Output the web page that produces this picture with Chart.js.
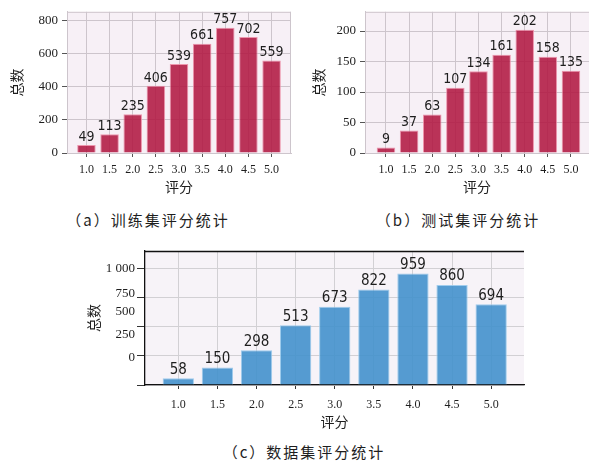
<!DOCTYPE html>
<html>
<head>
<meta charset="utf-8">
<script src="https://cdn.jsdelivr.net/npm/chart.js@4.4.0/dist/chart.umd.min.js"></script>
<style>
  body { margin: 0; background: #fff; width: 589px; height: 463px; position: relative; overflow: hidden; }
  canvas { position: absolute; }
  .cap { position: absolute; font-family: "Noto Sans CJK SC"; font-size: 15px; line-height: 20px;
         letter-spacing: 2px; color: #1e1e1e; white-space: nowrap; transform: translateX(-50%); }
</style>
</head>
<body>
<canvas id="chartA" width="300" height="200" style="left:0;top:0"></canvas>
<canvas id="chartB" width="289" height="200" style="left:300px;top:0"></canvas>
<canvas id="chartC" width="460" height="200" style="left:80px;top:240px"></canvas>
<div class="cap" id="capA" style="left:148px;top:210px"></div>
<div class="cap" id="capB" style="left:458px;top:210px"></div>
<div class="cap" id="capC" style="left:304px;top:442px"></div>
<script>
// data
const ratings = [1.0, 1.5, 2.0, 2.5, 3.0, 3.5, 4.0, 4.5, 5.0];
const trainCounts = [49, 113, 235, 406, 539, 661, 757, 702, 559];
const testCounts = [9, 37, 63, 107, 134, 161, 202, 158, 135];
const allCounts = [58, 150, 298, 513, 673, 822, 959, 860, 694];

const yTicksA = [0, 200, 400, 600, 800];
const yTicksB = [0, 50, 100, 150, 200];
const yTicksC = [0, 250, 500, 750, 1000];
// the (c) figure has its tick texts shifted off the grid lines
const cTickLabels = ['0', '250', '500', '750', '1 000'];
const cLabelAt = [232, 430, 628, 782, 1000];

const xTitle = '评分';
const yTitle = '总数';
const captions = ['（a）训练集评分统计', '（b）测试集评分统计', '（c）数据集评分统计'];

document.getElementById('capA').textContent = captions[0];
document.getElementById('capB').textContent = captions[1];
document.getElementById('capC').textContent = captions[2];

const serif = '"Liberation Serif", "DejaVu Serif", serif';
const cjk = '"Noto Sans CJK SC", sans-serif';
const narrow = '"Liberation Sans Narrow", "DejaVu Sans Condensed", "Liberation Sans", sans-serif';

// pink/lavender panel behind the bars, plus the top/right frame
const plotBg = {
  id: 'plotBg',
  beforeDraw(chart, args, opts) {
    const { ctx, chartArea: a } = chart;
    ctx.save();
    ctx.fillStyle = opts.color;
    ctx.fillRect(a.left, a.top, a.width, a.height);
    ctx.restore();
  },
  afterDatasetsDraw(chart, args, opts) {
    const { ctx, chartArea: a } = chart;
    ctx.save();
    ctx.strokeStyle = opts.frame;
    ctx.lineWidth = opts.frameWidth || 1;
    ctx.beginPath();
    ctx.moveTo(a.left, a.top + 0.5);
    ctx.lineTo(a.right, a.top + 0.5);
    if (opts.right) {
      ctx.moveTo(a.right - 0.5, a.top);
      ctx.lineTo(a.right - 0.5, a.bottom);
    }
    ctx.stroke();
    ctx.restore();
  }
};

// numbers on top of each bar
const valueLabels = {
  id: 'valueLabels',
  afterDatasetsDraw(chart, args, opts) {
    const { ctx } = chart;
    const meta = chart.getDatasetMeta(0);
    const ds = chart.data.datasets[0].data;
    ctx.save();
    ctx.font = opts.font;
    ctx.fillStyle = '#1e1e1e';
    ctx.textAlign = 'center';
    ctx.textBaseline = 'bottom';
    meta.data.forEach((bar, i) => {
      ctx.fillText(String(ds[i].y), bar.x, bar.y - 1);
    });
    ctx.restore();
  }
};

function makeChart(id, counts, c) {
  const scales = {
    x: {
      type: 'linear',
      min: c.xMin,
      max: c.xMax,
      offset: false,
      afterBuildTicks: s => { s.ticks = ratings.map(v => ({ value: v })); },
      afterFit: s => { s.height = c.xHeight; },
      grid: { color: c.grid, tickColor: c.tick, tickLength: 4, offset: false },
      border: { color: c.axis, width: c.axisWidth },
      ticks: {
        autoSkip: false, maxRotation: 0, padding: c.xTickPad, color: '#1e1e1e',
        font: { family: serif, size: 12 },
        callback: v => Number(v).toFixed(1)
      },
      title: {
        display: true, text: xTitle, color: '#1e1e1e',
        font: { family: cjk, size: 14 },
        padding: { top: 0, bottom: c.xTitlePad }
      }
    },
    y: {
      min: 0,
      max: c.yMax,
      weight: 0,
      afterBuildTicks: s => { s.ticks = c.yTicks.map(v => ({ value: v })); },
      afterFit: s => { s.width = c.yWidth; },
      grid: { color: c.grid, tickColor: c.tick, tickLength: c.yTickLen },
      border: { color: c.axis, width: c.axisWidth },
      ticks: {
        display: !c.splitLabels, padding: 4, color: '#1e1e1e',
        font: { family: serif, size: 13 }
      },
      title: {
        display: !c.splitLabels, text: yTitle, color: '#1e1e1e',
        font: { family: cjk, size: 14 },
        padding: { top: c.yTitlePad, bottom: 0 }
      }
    }
  };
  if (c.splitLabels) {
    scales.yLab = {
      position: 'left',
      weight: 1,
      min: 0,
      max: c.yMax,
      afterBuildTicks: s => { s.ticks = cLabelAt.map(v => ({ value: v })); },
      afterFit: s => { s.width = c.labWidth; },
      grid: { display: false, drawTicks: false },
      border: { display: false },
      ticks: {
        padding: 0, color: '#1e1e1e', autoSkip: false,
        font: { family: serif, size: 13 },
        callback: (v, i) => cTickLabels[i]
      },
      title: {
        display: true, text: yTitle, color: '#1e1e1e',
        font: { family: cjk, size: 14 },
        padding: { top: c.yTitlePad, bottom: 0 }
      }
    };
  }
  return new Chart(document.getElementById(id), {
    type: 'bar',
    data: {
      datasets: [{
        data: ratings.map((r, i) => ({ x: r, y: counts[i] })),
        backgroundColor: c.bar,
        borderColor: c.edge,
        borderWidth: 1,
        barPercentage: 0.8,
        categoryPercentage: 1
      }]
    },
    options: {
      responsive: false,
      animation: false,
      layout: { padding: c.pad },
      plugins: {
        legend: { display: false },
        tooltip: { enabled: false },
        plotBg: { color: c.bg, frame: c.frame, frameWidth: c.axisWidth, right: c.rightFrame },
        valueLabels: { font: c.labelFont }
      },
      scales: scales
    },
    plugins: [plotBg, valueLabels]
  });
}

makeChart('chartA', trainCounts, {
  xMin: 0.58, xMax: 5.42, yMax: 854, yTicks: yTicksA,
  pad: { top: 11, right: 9, left: 0, bottom: 0 },
  xHeight: 47, yWidth: 67, yTickLen: 5, xTickPad: 6, xTitlePad: 4.6, yTitlePad: 8,
  grid: '#cdc5cc', axis: '#cdc5cc', axisWidth: 1, tick: '#555', frame: '#cdc5cc', rightFrame: true,
  bg: '#f7f0f6', bar: 'rgba(178, 24, 66, 0.88)', edge: 'rgba(235, 140, 165, 0.9)',
  labelFont: '14px ' + narrow
});

makeChart('chartB', testCounts, {
  xMin: 0.546, xMax: 5.39, yMax: 231.6, yTicks: yTicksB,
  pad: { top: 10, right: 0, left: 0, bottom: 0 },
  xHeight: 47, yWidth: 65, yTickLen: 5, xTickPad: 6, xTitlePad: 4.6, yTitlePad: 10,
  grid: '#cdc5cc', axis: '#cdc5cc', axisWidth: 1, tick: '#555', frame: '#cdc5cc', rightFrame: false,
  bg: '#f7f0f6', bar: 'rgba(178, 24, 66, 0.88)', edge: 'rgba(235, 140, 165, 0.9)',
  labelFont: '14px ' + narrow
});

makeChart('chartC', allCounts, {
  xMin: 0.574, xMax: 5.42, yMax: 1152, yTicks: yTicksC, splitLabels: true,
  pad: { top: 11, right: 16, left: 0, bottom: 0 },
  xHeight: 55, yWidth: 10, labWidth: 55, yTickLen: 8, xTickPad: 9, xTitlePad: 10, yTitlePad: 5,
  grid: '#d2d0d4', axis: '#111', axisWidth: 1.3, tick: '#333', frame: '#111', rightFrame: false,
  bg: '#f7f3f8', bar: 'rgba(66, 145, 204, 0.9)', edge: 'rgba(150, 200, 235, 0.9)',
  labelFont: '15px ' + narrow
});
</script>
</body>
</html>
